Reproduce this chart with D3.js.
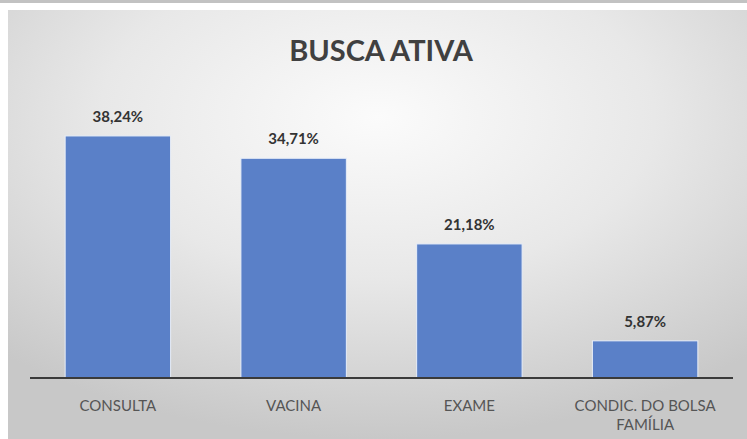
<!DOCTYPE html>
<html><head><meta charset="utf-8">
<script src="https://cdn.jsdelivr.net/npm/d3@7"></script>
<style>html,body{margin:0;padding:0;background:#fff;}svg{display:block;}</style>
</head><body>
<script>
const categories = ["CONSULTA", "VACINA", "EXAME", "CONDIC. DO BOLSA FAMÍLIA"];
const categoryLines = [["CONSULTA"], ["VACINA"], ["EXAME"], ["CONDIC. DO BOLSA", "FAMÍLIA"]];
const values = [38.24, 34.71, 21.18, 5.87];
const valueLabels = ["38,24%", "34,71%", "21,18%", "5,87%"];
const title = "BUSCA ATIVA";

const W = 747, H = 439;
const svg = d3.select("body").append("svg").attr("width", W).attr("height", H);
const defs = svg.append("defs");
const grad = defs.append("radialGradient").attr("id", "bg")
  .attr("cx", "50%").attr("cy", "25%").attr("r", "75%");
grad.append("stop").attr("offset", "0%").attr("stop-color", "#fbfbfb");
grad.append("stop").attr("offset", "50%").attr("stop-color", "#e8e8e8");
grad.append("stop").attr("offset", "100%").attr("stop-color", "#c8c8c8");

svg.append("rect").attr("x", 0).attr("y", 0).attr("width", W).attr("height", 3).attr("fill", "#c2c2c2");
svg.append("rect").attr("x", 8).attr("y", 10).attr("width", W - 8).attr("height", H - 10).attr("fill", "url(#bg)");

const font = "Lato, Open Sans, sans-serif";

svg.append("text").attr("x", 381).attr("y", 61).attr("text-anchor", "middle")
  .attr("font-family", font).attr("font-weight", "bold").attr("font-size", 29)
  .attr("fill", "#404040").text(title);

const x = d3.scaleBand().domain(categories).range([30, 733]).paddingInner(0.4).paddingOuter(0.2);
const y = d3.scaleLinear().domain([0, 45]).range([378, 378 - 6.33 * 45]);

svg.selectAll("rect.bar").data(values).enter().append("rect").attr("class", "bar")
  .attr("x", (d, i) => x(categories[i]))
  .attr("y", d => y(d))
  .attr("width", x.bandwidth())
  .attr("height", d => y(0) - y(d))
  .attr("fill", "#5a80c8").attr("stroke", "#e8eef8").attr("stroke-width", 1);

const axis = svg.append("g").attr("transform", `translate(0,${y(0)})`)
  .call(d3.axisBottom(x).tickSize(0).tickFormat(""));
axis.select(".domain").attr("stroke", "#3a3a3a").attr("stroke-width", 2)
  .attr("d", "M30,0H733");

svg.selectAll("text.val").data(values).enter().append("text").attr("class", "val")
  .attr("x", (d, i) => x(categories[i]) + x.bandwidth() / 2)
  .attr("y", d => y(d) - 14)
  .attr("text-anchor", "middle").attr("font-family", font).attr("font-weight", "bold")
  .attr("font-size", 15).attr("fill", "#333").text((d, i) => valueLabels[i]);

const cl = svg.selectAll("text.cat").data(categories).enter().append("text").attr("class", "cat")
  .attr("x", d => x(d) + x.bandwidth() / 2)
  .attr("y", 411)
  .attr("text-anchor", "middle").attr("font-family", font)
  .attr("font-size", 15).attr("fill", "#555");
cl.selectAll("tspan").data((d, i) => categoryLines[i]).enter().append("tspan")
  .attr("x", function() { return d3.select(this.parentNode).attr("x"); })
  .attr("dy", (d, j) => j === 0 ? 0 : 19).text(d => d);
</script>
</body></html>
